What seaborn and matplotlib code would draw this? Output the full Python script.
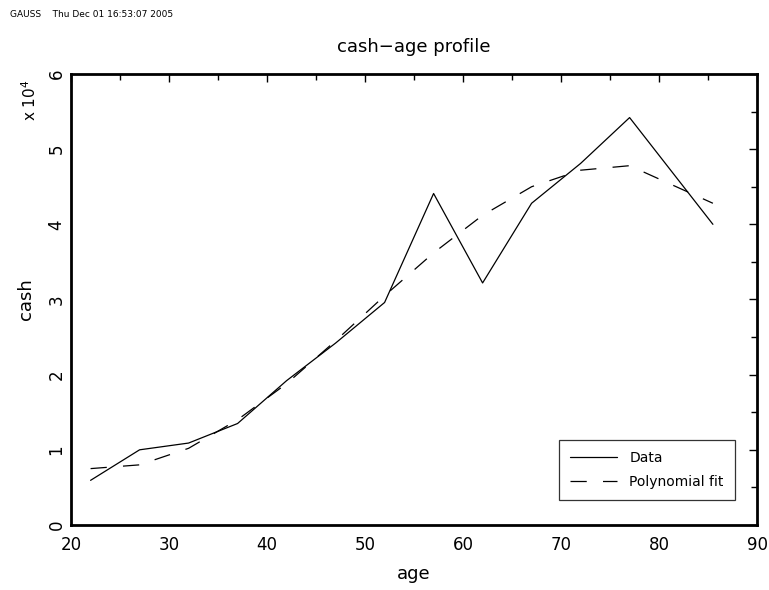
import numpy as np
import pandas as pd
import seaborn as sns
import matplotlib.pyplot as plt
from matplotlib.ticker import MultipleLocator

## datos (cash en unidades reales)
age = [22, 27, 32, 37, 42, 47, 52, 57, 62, 67, 72, 77, 85.5]
cash_data = [5940, 10000, 10900, 13500, 19200, 24200, 29600, 44100, 32200, 42800, 48100, 54200, 40000]
cash_fit = [7500, 8000, 10200, 14000, 18800, 24500, 30500, 36200, 41200, 45000, 47200, 47800, 42800]

df = pd.DataFrame({'age': age, 'Data': np.array(cash_data) / 1e4,
                   'Polynomial fit': np.array(cash_fit) / 1e4})

sns.set_style('white')
plt.rcParams['font.family'] = ['DejaVu Sans']
plt.rcParams['text.color'] = 'black'
plt.rcParams['axes.labelcolor'] = 'black'
plt.rcParams['xtick.color'] = 'black'
plt.rcParams['ytick.color'] = 'black'

fig = plt.figure(figsize=(7.69, 5.90), dpi=100)
ax = fig.add_axes([0.0923, 0.1102, 0.8921, 0.7644])

sns.lineplot(data=df, x='age', y='Data', ax=ax, color='black', linewidth=0.9, label='Data')
sns.lineplot(data=df, x='age', y='Polynomial fit', ax=ax, color='black', linewidth=0.9,
             label='Polynomial fit', dashes=False)
ax.lines[1].set_linestyle((0, (13, 13)))

ax.set_xlim(20, 90)
ax.set_ylim(0, 6)
ax.xaxis.set_major_locator(MultipleLocator(10))
ax.xaxis.set_minor_locator(MultipleLocator(5))
ax.yaxis.set_major_locator(MultipleLocator(1))
ax.yaxis.set_minor_locator(MultipleLocator(0.5))
ax.tick_params(which='both', direction='in', top=True, right=True, width=1, color='black')
ax.tick_params(which='major', length=6, labelsize=12)
ax.tick_params(axis='x', pad=8)
ax.tick_params(axis='y', pad=4)
ax.tick_params(which='minor', length=4)
ax.tick_params(axis='x', labeltop=False)
ax.tick_params(axis='y', labelright=False)
for lab in ax.get_yticklabels():
    lab.set_rotation(90)
    lab.set_va('center')
for s in ax.spines.values():
    s.set_linewidth(2)
    s.set_color('black')

ax.set_xlabel('age', fontsize=13, labelpad=8)
ax.set_ylabel('cash', fontsize=13, labelpad=9)
ax.set_title('cash\u2212age profile', fontsize=13, pad=16)

fig.text(0.013, 0.976, 'GAUSS    Thu Dec 01 16:53:07 2005', fontsize=6.5, va='center')
fig.text(0.038, 0.83, r'x 10$^4$', fontsize=11, rotation=90, ha='center', va='center')

leg = ax.legend(loc='lower right', bbox_to_anchor=(0.978, 0.04), fontsize=10,
                frameon=True, fancybox=False, handlelength=3.4, borderpad=0.8,
                labelspacing=0.7, handletextpad=0.9)
leg.get_frame().set_edgecolor('black')
leg.get_frame().set_linewidth(0.9)

plt.savefig('out.png', dpi=100)
